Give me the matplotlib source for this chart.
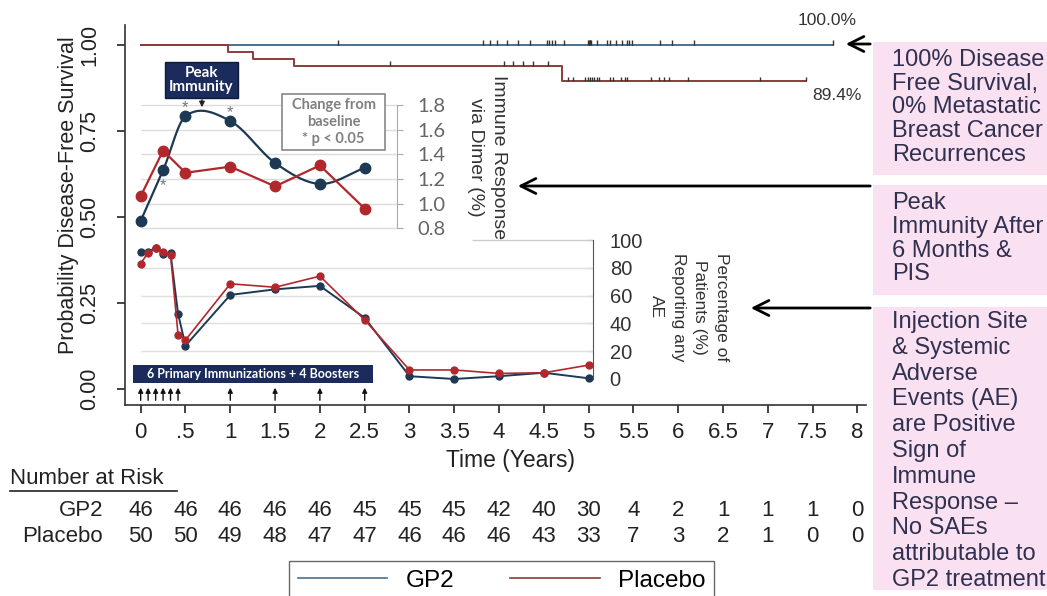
import numpy as np
import matplotlib
matplotlib.use("Agg")
import matplotlib.pyplot as plt
from matplotlib.patches import Rectangle, FancyArrowPatch
from matplotlib.lines import Line2D
from matplotlib.transforms import blended_transform_factory

# Kaplan-Meier curves (years, survival)
km_gp2_t = [0, 7.73]
km_gp2_s = [1.0, 1.0]
km_pl_t = [0, 0.97, 1.25, 1.71, 4.70, 7.43]
km_pl_s = [1.0, 0.98, 0.96, 0.94, 0.894, 0.894]
cens_gp2 = [2.2, 3.82, 3.90, 3.98, 4.09, 4.21, 4.35, 4.53, 4.56, 4.59, 4.62, 4.73,
            4.99, 5.00, 5.01, 5.02, 5.03, 5.09, 5.20, 5.24, 5.31, 5.37, 5.43, 5.45,
            5.48, 5.80, 5.93, 6.17, 7.73]
cens_pl = [2.78, 4.05, 4.16, 4.27, 4.38, 4.55, 4.77, 4.83, 4.96, 4.99, 5.02, 5.04,
           5.06, 5.09, 5.12, 5.24, 5.27, 5.36, 5.40, 5.43, 5.69, 5.78, 5.84, 5.90,
           6.11, 6.91, 7.43]

# immune response via dimer (change from baseline)
imm_t = [0, 0.25, 0.5, 1.0, 1.5, 2.0, 2.5]
imm_gp2 = [0.86, 1.27, 1.71, 1.67, 1.33, 1.16, 1.29]
imm_pl = [1.06, 1.43, 1.25, 1.30, 1.14, 1.31, 0.96]

# percentage of patients reporting any AE
ae_t = [0, 0.083, 0.167, 0.25, 0.333, 0.417, 0.5, 1.0, 1.5, 2.0, 2.5, 3.0, 3.5, 4.0, 4.5, 5.0]
ae_gp2 = [91.5, 91.5, 94.5, 90, 90.5, 47, 24, 60.5, 64.5, 67, 44, 2, 0, 2, 4.5, 0.5]
ae_pl = [83, 91, 94, 91.5, 89.5, 32, 28, 68.5, 66, 74, 42.5, 6.5, 6.5, 4, 4.5, 10]

# immunization times
shot_t = [0, 0.083, 0.167, 0.25, 0.333, 0.417, 1.0, 1.5, 2.0, 2.5]

xticks = [0, 0.5, 1, 1.5, 2, 2.5, 3, 3.5, 4, 4.5, 5, 5.5, 6, 6.5, 7, 7.5, 8]
xtick_labels = ["0", ".5", "1", "1.5", "2", "2.5", "3", "3.5", "4", "4.5", "5",
                "5.5", "6", "6.5", "7", "7.5", "8"]
risk_gp2 = [46, 46, 46, 46, 46, 45, 45, 45, 42, 40, 30, 4, 2, 1, 1, 1, 0]
risk_pl = [50, 50, 49, 48, 47, 47, 46, 46, 46, 43, 33, 7, 3, 2, 1, 0, 0]

box1 = ["100% Disease", "Free Survival,", "0% Metastatic", "Breast Cancer", "Recurrences"]
box2 = ["Peak", "Immunity After", "6 Months &", "PIS"]
box3 = ["Injection Site", "& Systemic", "Adverse", "Events (AE)", "are Positive",
        "Sign of", "Immune", "Response \u2013", "No SAEs", "attributable to",
        "GP2 treatment"]

C_GP2 = "#4a7090"
C_PL = "#8e3b3b"
C_GP2_D = "#1d3954"
C_PL_D = "#b0282c"
NAVY = "#1a2b5c"
PINK = "#f9e1f2"
BOXTXT = "#303050"

plt.rcParams["font.family"] = ["Liberation Sans", "DejaVu Sans"]

W, H = 1047, 596
fig = plt.figure(figsize=(W / 100, H / 100), dpi=100)


def px_axes(x0, y0, x1, y1):
    return fig.add_axes([x0 / W, 1 - y1 / H, (x1 - x0) / W, (y1 - y0) / H])


def fp(x, y):
    return (x / W, 1 - y / H)


def smooth_line(x, y, n=40):
    x = np.asarray(x, float)
    y = np.asarray(y, float)
    m = np.empty_like(y)
    m[1:-1] = (y[2:] - y[:-2]) / (x[2:] - x[:-2])
    m[0] = (y[1] - y[0]) / (x[1] - x[0])
    m[-1] = (y[-1] - y[-2]) / (x[-1] - x[-2])
    xs, ys = [], []
    for i in range(len(x) - 1):
        h = x[i + 1] - x[i]
        s = np.linspace(0, 1, n)
        h00 = 2 * s**3 - 3 * s**2 + 1
        h10 = s**3 - 2 * s**2 + s
        h01 = -2 * s**3 + 3 * s**2
        h11 = s**3 - s**2
        xs.append(x[i] + s * h)
        ys.append(h00 * y[i] + h10 * h * m[i] + h01 * y[i + 1] + h11 * h * m[i + 1])
    return np.concatenate(xs), np.concatenate(ys)


# ---- main survival axes
ax = px_axes(125, 25, 866, 405)
ax.set_xlim(-0.175, 8.095)
ax.set_ylim(-0.0465, 1.058)
ax.patch.set_alpha(0)
for s in ["top", "right"]:
    ax.spines[s].set_visible(False)
for s in ["left", "bottom"]:
    ax.spines[s].set_color("#333333")
    ax.spines[s].set_linewidth(1.2)

ax.step(km_gp2_t, km_gp2_s, where="post", color=C_GP2, lw=1.4)
ax.step(km_pl_t, km_pl_s, where="post", color=C_PL, lw=1.4)
idx = np.searchsorted(km_pl_t, cens_pl, side="right") - 1
ax.vlines(cens_pl, np.array(km_pl_s)[idx], np.array(km_pl_s)[idx] + 0.014, color="#333", lw=1)
idx = np.searchsorted(km_gp2_t, cens_gp2, side="right") - 1
ax.vlines(cens_gp2, np.array(km_gp2_s)[idx], np.array(km_gp2_s)[idx] + 0.014, color="#333", lw=1)

ax.text(7.66, 1.072, "100.0%", ha="center", va="center", fontsize=12.5, color="#333", clip_on=False)
ax.text(7.77, 0.852, "89.4%", ha="center", va="center", fontsize=12.5, color="#333")

ax.set_xticks(xticks)
ax.set_xticklabels(xtick_labels)
ax.set_yticks([0, 0.25, 0.5, 0.75, 1.0])
ax.set_yticklabels(["0.00", "0.25", "0.50", "0.75", "1.00"], rotation=90, va="center")
ax.tick_params(axis="x", length=6, width=1.2, pad=6, labelsize=16, colors="#222")
ax.tick_params(axis="y", length=6, width=1.2, pad=12, labelsize=15.5, colors="#222")

fig.text(*fp(69, 195), "Probability Disease-Free Survival", rotation=90,
         ha="center", va="center", fontsize=15.5, color="#222")
fig.text(*fp(510, 460), "Time (Years)", ha="center", va="center", fontsize=16.5, color="#222")

# number at risk
tr = blended_transform_factory(ax.transData, fig.transFigure)
fig.text(*fp(10, 479), "Number at Risk", ha="left", va="center", fontsize=16, color="#222")
fig.add_artist(Line2D([10 / W, 177 / W], [1 - 491 / H] * 2, color="#222", lw=1.2))
fig.text(*fp(103, 511), "GP2", ha="right", va="center", fontsize=16, color="#222")
fig.text(*fp(103, 537), "Placebo", ha="right", va="center", fontsize=16, color="#222")
for t, a, b in zip(xticks, risk_gp2, risk_pl):
    ax.text(t, 1 - 511 / H, str(a), transform=tr, ha="center", va="center",
            fontsize=16, color="#222", clip_on=False)
    ax.text(t, 1 - 537 / H, str(b), transform=tr, ha="center", va="center",
            fontsize=16, color="#222", clip_on=False)

# legend
h1 = Line2D([], [], color=C_GP2, lw=1.2)
h2 = Line2D([], [], color=C_PL, lw=1.2)
fig.legend([h1, h2], ["GP2", "Placebo"], loc="upper left", bbox_to_anchor=fp(289, 561),
           ncol=2, frameon=True, fancybox=False, edgecolor="#444", fontsize=17.5,
           handlelength=3.7, handletextpad=0.75, columnspacing=2.3, borderpad=0.35,
           borderaxespad=0)

# ---- immune response inset
ai = px_axes(125, 88, 397, 240)
ai.set_xlim(-0.175, 2.8605)
ai.set_ylim(0.7051, 1.9378)
ai.patch.set_alpha(0)
for s in ["top", "left", "bottom"]:
    ai.spines[s].set_visible(False)
ai.spines["right"].set_color("#aaaaaa")
ai.spines["right"].set_bounds(0.8, 1.8)
ai.set_xticks([])
ai.yaxis.tick_right()
ai.set_yticks([0.8, 1.0, 1.2, 1.4, 1.6, 1.8])
ai.set_yticklabels(["0.8", "1.0", "1.2", "1.4", "1.6", "1.8"], fontfamily="Lato")
ai.tick_params(axis="y", length=4.5, pad=10, labelsize=14.5, colors="#aaaaaa", labelcolor="#666")
ai.hlines([0.8, 1.0, 1.2, 1.4, 1.6, 1.8], 0, 2.93, color="#dcdcdc", lw=1)
sx, sy = smooth_line(imm_t, imm_gp2)
ai.plot(sx, sy, color=C_GP2_D, lw=1.6)
ai.plot(imm_t, imm_gp2, "o", color=C_GP2_D, ms=7.5)
ai.plot(imm_t, imm_pl, color=C_PL_D, lw=1.6, marker="o", ms=7.5)
for t, v, dv in [(imm_t[2], imm_gp2[2], 0.07), (imm_t[3], imm_gp2[3], 0.07), (imm_t[1], imm_gp2[1], -0.12)]:
    ai.text(t, v + dv, "*", ha="center", va="center", fontsize=12, color="#777")

fig.text(*fp(487, 157), "Immune Response\nvia Dimer (%)", rotation=-90, ha="center",
         va="center", multialignment="center", fontsize=14, color="#333", linespacing=1.45)

# peak immunity box
fig.text(*fp(201.5, 80), "Peak\nImmunity", ha="center", va="center", fontsize=11,
         fontfamily="Lato", fontweight="bold", color="white", linespacing=1.0,
         bbox=dict(boxstyle="square,pad=0.25", fc=NAVY, ec="#0e1a3a", lw=1))
ai.annotate("", xy=(0.684, 1.759), xytext=(0.684, 1.865),
            arrowprops=dict(arrowstyle="-|>", color="#222", lw=1, mutation_scale=8))

# change from baseline box
fig.add_artist(Rectangle(fp(282, 150), 103 / W, 56 / H, transform=fig.transFigure,
                         fc="white", ec="#888", lw=1.2))
fig.text(*fp(333.5, 122), "Change from\nbaseline\n* p < 0.05", ha="center", va="center",
         fontsize=10.5, fontfamily="Lato", fontweight="bold", color="#808080", linespacing=1.3)

# ---- adverse events panel
ae = px_axes(125, 232, 593, 405)
ae.set_xlim(-0.175, 5.048)
ae.set_ylim(-18.71, 105.76)
ae.patch.set_alpha(0)
for s in ["top", "left", "bottom"]:
    ae.spines[s].set_visible(False)
ae.spines["right"].set_color("#555")
ae.spines["right"].set_bounds(0, 100)
ae.set_xticks([])
ae.yaxis.tick_right()
ae.set_yticks([0, 20, 40, 60, 80, 100])
ae.tick_params(axis="y", direction="in", length=5, pad=12, labelsize=14.5,
               colors="#555", labelcolor="#333")
ae.hlines([20, 40, 60, 80], 0, 5.048, color="#e0e0e0", lw=1)
ae.hlines([100], 3.70, 5.048, color="#cccccc", lw=1)
ae.plot(ae_t, ae_gp2, color=C_GP2_D, lw=1.4, marker="o", ms=5)
ae.plot(ae_t, ae_pl, color=C_PL_D, lw=1.2, marker="o", ms=5)

ae.add_patch(Rectangle((-0.086, -2.88), 2.679, 12.95, fc=NAVY, ec="none", clip_on=False))
ae.text(1.25, 3.6, "6 Primary Immunizations + 4 Boosters", ha="center", va="center",
        fontsize=9, fontfamily="Lato", fontweight="bold", color="white")
for t in shot_t:
    ae.annotate("", xy=(t, -4.3), xytext=(t, -17.3), annotation_clip=False,
                arrowprops=dict(arrowstyle="-|>", color="#111", lw=1, mutation_scale=7))

fig.text(*fp(689, 307), "Percentage of\nPatients (%)\nReporting any\nAE", rotation=-90,
         ha="center", va="center", multialignment="center", fontsize=12.5, color="#333",
         linespacing=1.55)

# ---- right annotation boxes and arrows
for (y0, y1) in [(42, 175), (185, 295), (307, 590)]:
    fig.add_artist(Rectangle(fp(873, y1), (W - 873) / W, (y1 - y0) / H,
                             transform=fig.transFigure, fc=PINK, ec="none"))
for lines, y0, dy in [(box1, 60, 23.7), (box2, 203, 23.8), (box3, 322, 25.8)]:
    for i, s in enumerate(lines):
        fig.text(*fp(892, y0 + i * dy), s, ha="left", va="center", fontsize=17, color=BOXTXT)

for y, x_end in [(44, 843), (186, 515), (308, 748)]:
    fig.add_artist(FancyArrowPatch(
        fp(873, y), fp(x_end, y), transform=fig.transFigure,
        arrowstyle="->,head_length=0.6,head_width=0.3", color="black", lw=2,
        mutation_scale=18))

fig.savefig("out.png", dpi=100)
